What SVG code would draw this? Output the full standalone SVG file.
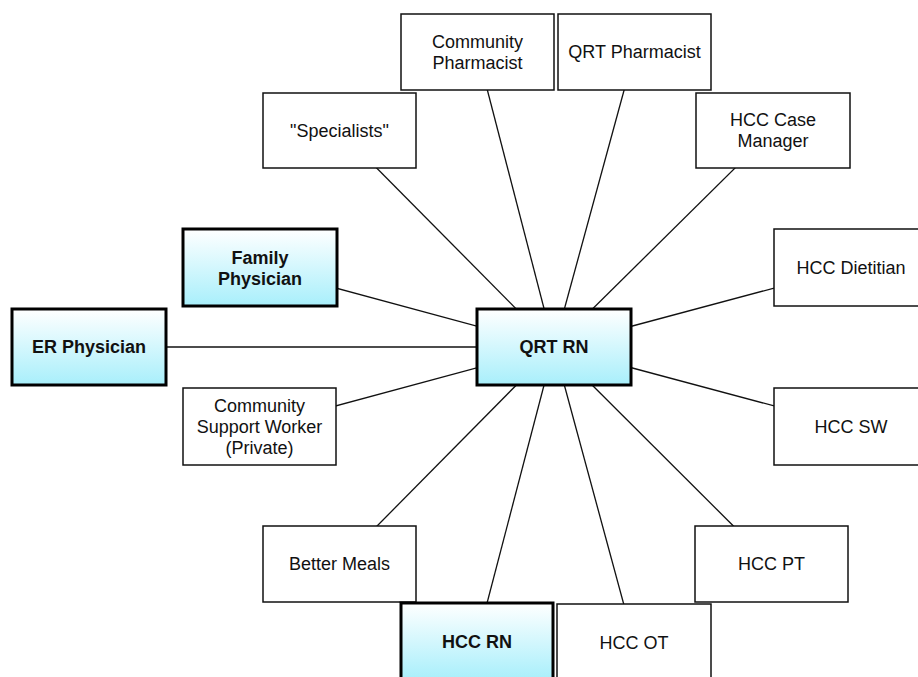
<svg xmlns="http://www.w3.org/2000/svg" width="918" height="677" viewBox="0 0 918 677">
<defs>
<linearGradient id="hl" x1="0" y1="0" x2="0" y2="1">
<stop offset="0" stop-color="#ffffff"/>
<stop offset="1" stop-color="#a8effb"/>
</linearGradient>
<style>
.box{fill:#ffffff;stroke:#111;stroke-width:1.5}
.key{fill:url(#hl);stroke:#000;stroke-width:3}
.lbl{font-family:"Liberation Sans",Arial,Helvetica,sans-serif;font-size:18px;fill:#111;text-anchor:middle}
.b{font-weight:bold}
.ln{stroke:#111;stroke-width:1.3;fill:none}
</style>
</defs>
<rect width="918" height="677" fill="#ffffff"/>
<g id="connectors">
<line class="ln" x1="554" y1="347" x2="477.5" y2="52"/>
<line class="ln" x1="554" y1="347" x2="634.5" y2="52"/>
<line class="ln" x1="554" y1="347" x2="339.5" y2="130.5"/>
<line class="ln" x1="554" y1="347" x2="773" y2="130.5"/>
<line class="ln" x1="554" y1="347" x2="260" y2="267.5"/>
<line class="ln" x1="554" y1="347" x2="851" y2="267.5"/>
<line class="ln" x1="554" y1="347" x2="89" y2="347"/>
<line class="ln" x1="554" y1="347" x2="259.5" y2="426.5"/>
<line class="ln" x1="554" y1="347" x2="851" y2="426.5"/>
<line class="ln" x1="554" y1="347" x2="339.5" y2="564"/>
<line class="ln" x1="554" y1="347" x2="771.5" y2="564"/>
<line class="ln" x1="554" y1="347" x2="477" y2="641.5"/>
<line class="ln" x1="554" y1="347" x2="634" y2="642"/>
</g>
<g id="community-pharmacist"><rect class="box" x="401" y="14" width="153" height="76"/><text class="lbl" x="477.5" y="48.4">Community</text><text class="lbl" x="477.5" y="69.4">Pharmacist</text></g>
<g id="qrt-pharmacist"><rect class="box" x="558" y="14" width="153" height="76"/><text class="lbl" x="634.5" y="58.4">QRT Pharmacist</text></g>
<g id="specialists"><rect class="box" x="263" y="93" width="153" height="75"/><text class="lbl" x="339.5" y="137">"Specialists"</text></g>
<g id="hcc-case-manager"><rect class="box" x="696" y="93" width="154" height="75"/><text class="lbl" x="773" y="126.4">HCC Case</text><text class="lbl" x="773" y="147.4">Manager</text></g>
<g id="family-physician"><rect class="key" x="183" y="229" width="154" height="77"/><text class="lbl b" x="260" y="263.6">Family</text><text class="lbl b" x="260" y="284.6">Physician</text></g>
<g id="hcc-dietitian"><rect class="box" x="774" y="229" width="154" height="77"/><text class="lbl" x="851" y="274">HCC Dietitian</text></g>
<g id="er-physician"><rect class="key" x="12" y="309" width="154" height="76"/><text class="lbl b" x="89" y="353.4">ER Physician</text></g>
<g id="qrt-rn"><rect class="key" x="477" y="309" width="154" height="76"/><text class="lbl b" x="554" y="353.4">QRT RN</text></g>
<g id="community-support-worker"><rect class="box" x="183" y="388" width="153" height="77"/><text class="lbl" x="259.5" y="412">Community</text><text class="lbl" x="259.5" y="433">Support Worker</text><text class="lbl" x="259.5" y="454">(Private)</text></g>
<g id="hcc-sw"><rect class="box" x="774" y="388" width="154" height="77"/><text class="lbl" x="851" y="433">HCC SW</text></g>
<g id="better-meals"><rect class="box" x="263" y="526" width="153" height="76"/><text class="lbl" x="339.5" y="570.4">Better Meals</text></g>
<g id="hcc-pt"><rect class="box" x="695" y="526" width="153" height="76"/><text class="lbl" x="771.5" y="570.4">HCC PT</text></g>
<g id="hcc-rn"><rect class="key" x="401" y="603" width="152" height="77"/><text class="lbl b" x="477" y="648">HCC RN</text></g>
<g id="hcc-ot"><rect class="box" x="557" y="604" width="154" height="77"/><text class="lbl" x="634" y="648.5">HCC OT</text></g>
</svg>
